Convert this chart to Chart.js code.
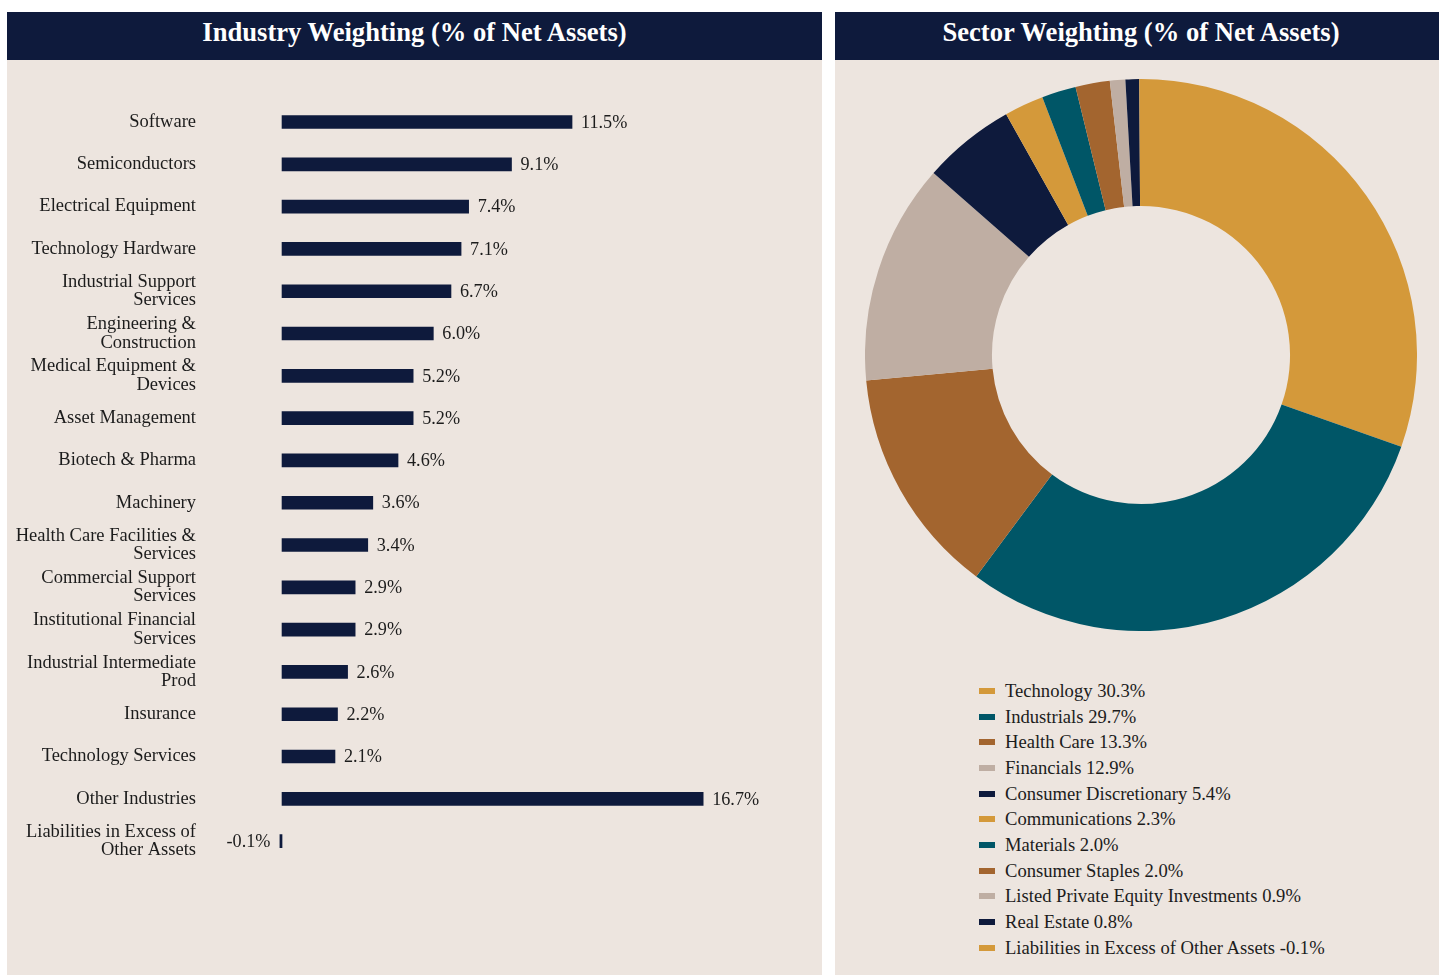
<!DOCTYPE html>
<html>
<head>
<meta charset="utf-8">
<script src="https://cdn.jsdelivr.net/npm/chart.js@4.4.1/dist/chart.umd.min.js"></script>
<style>
  html, body { margin: 0; padding: 0; background: #ffffff; }
  body { width: 1439px; height: 975px; position: relative; overflow: hidden; font-family: 'Liberation Serif', 'Times New Roman', serif; }
  .panel { position: absolute; top: 12px; height: 963px; background: #ede5df; }
  .header { position: absolute; left: 0; top: 0; right: 0; height: 48px; background: #0e1a3c; color: #ffffff;
            font: bold 26.6px 'Liberation Serif', serif; line-height: 40px; text-align: center; }
  #left { left: 7px; width: 815px; }
  #right { left: 835px; width: 604px; }
  #barCanvas { position: absolute; left: 0; top: 48px; }
  #pieCanvas { position: absolute; left: 30px; top: 67px; }
  #legend { position: absolute; left: 144px; top: 666px; }
  .row { display: flex; align-items: center; height: 25.7px; font-size: 18.6px; color: #1c1c1c; white-space: nowrap; }
  .box { width: 16px; height: 6px; margin-right: 10px; }
</style>
</head>
<body>
<div class="panel" id="left">
  <div class="header">Industry Weighting (% of Net Assets)</div>
  <canvas id="barCanvas" width="815" height="915"></canvas>
</div>
<div class="panel" id="right">
  <div class="header" style="left:0; right:-8px;">Sector Weighting (% of Net Assets)</div>
  <canvas id="pieCanvas" width="552" height="552"></canvas>
  <div id="legend"></div>
</div>
<script>
const industryLabels = [
  ['Software'], ['Semiconductors'], ['Electrical Equipment'], ['Technology Hardware'],
  ['Industrial Support', 'Services'], ['Engineering &', 'Construction'], ['Medical Equipment &', 'Devices'],
  ['Asset Management'], ['Biotech & Pharma'], ['Machinery'], ['Health Care Facilities &', 'Services'],
  ['Commercial Support', 'Services'], ['Institutional Financial', 'Services'], ['Industrial Intermediate', 'Prod'],
  ['Insurance'], ['Technology Services'], ['Other Industries'], ['Liabilities in Excess of', 'Other Assets']
];
const industryValues = [11.5, 9.1, 7.4, 7.1, 6.7, 6.0, 5.2, 5.2, 4.6, 3.6, 3.4, 2.9, 2.9, 2.6, 2.2, 2.1, 16.7, -0.1];

const sectorLabels = ['Technology', 'Industrials', 'Health Care', 'Financials', 'Consumer Discretionary',
  'Communications', 'Materials', 'Consumer Staples', 'Listed Private Equity Investments', 'Real Estate',
  'Liabilities in Excess of Other Assets'];
const sectorValues = [30.3, 29.7, 13.3, 12.9, 5.4, 2.3, 2.0, 2.0, 0.9, 0.8, -0.1];
const sectorColors = ['#d4993a', '#005667', '#a3652f', '#bfaea3', '#0e1a3c',
  '#d4993a', '#005667', '#a3652f', '#bfaea3', '#0e1a3c', '#d4993a'];

const NAVY = '#0e1a3c';
const TEXT = '#1c1c1c';
const FONT = "'Liberation Serif', 'Times New Roman', serif";

const valueLabels = {
  id: 'valueLabels',
  afterDatasetsDraw(chart) {
    const ctx = chart.ctx;
    const meta = chart.getDatasetMeta(0);
    ctx.save();
    ctx.font = '18.2px ' + FONT;
    ctx.fillStyle = TEXT;
    ctx.textBaseline = 'middle';
    meta.data.forEach((bar, i) => {
      const v = chart.data.datasets[0].data[i];
      const txt = v.toFixed(1) + '%';
      if (v >= 0) { ctx.textAlign = 'left'; ctx.fillText(txt, bar.x + 9, bar.y + 1); }
      else { ctx.textAlign = 'right'; ctx.fillText(txt, bar.x - 9, bar.y + 1); }
    });
    ctx.restore();
  }
};

new Chart(document.getElementById('barCanvas'), {
  type: 'bar',
  data: {
    labels: industryLabels,
    datasets: [{ data: industryValues, backgroundColor: NAVY, barThickness: 13, borderWidth: 0 }]
  },
  options: {
    indexAxis: 'y',
    responsive: false,
    animation: false,
    layout: { padding: { top: 40.85, bottom: 112.7, left: 0, right: 10.4 } },
    plugins: { legend: { display: false }, tooltip: { enabled: false } },
    scales: {
      x: { display: false, min: -0.1, max: 21 },
      y: {
        grid: { display: false, drawTicks: false },
        border: { display: false },
        afterFit(axis) { axis.width = 272.5; axis.paddingTop = 0; axis.paddingBottom = 0; },
        ticks: { padding: 83.5, color: TEXT, font: { family: FONT, size: 18.5, lineHeight: 1.0 } }
      }
    }
  },
  plugins: [valueLabels]
});

new Chart(document.getElementById('pieCanvas'), {
  type: 'doughnut',
  data: {
    labels: sectorLabels,
    datasets: [{ data: sectorValues, backgroundColor: sectorColors, borderWidth: 0, hoverOffset: 0 }]
  },
  options: {
    responsive: false,
    animation: false,
    cutout: '54%',
    plugins: { legend: { display: false }, tooltip: { enabled: false } }
  }
});

const legend = document.getElementById('legend');
sectorLabels.forEach((name, i) => {
  const row = document.createElement('div');
  row.className = 'row';
  const box = document.createElement('span');
  box.className = 'box';
  box.style.background = sectorColors[i];
  const t = document.createElement('span');
  t.textContent = name + ' ' + sectorValues[i].toFixed(1) + '%';
  row.appendChild(box); row.appendChild(t);
  legend.appendChild(row);
});
</script>
</body>
</html>
